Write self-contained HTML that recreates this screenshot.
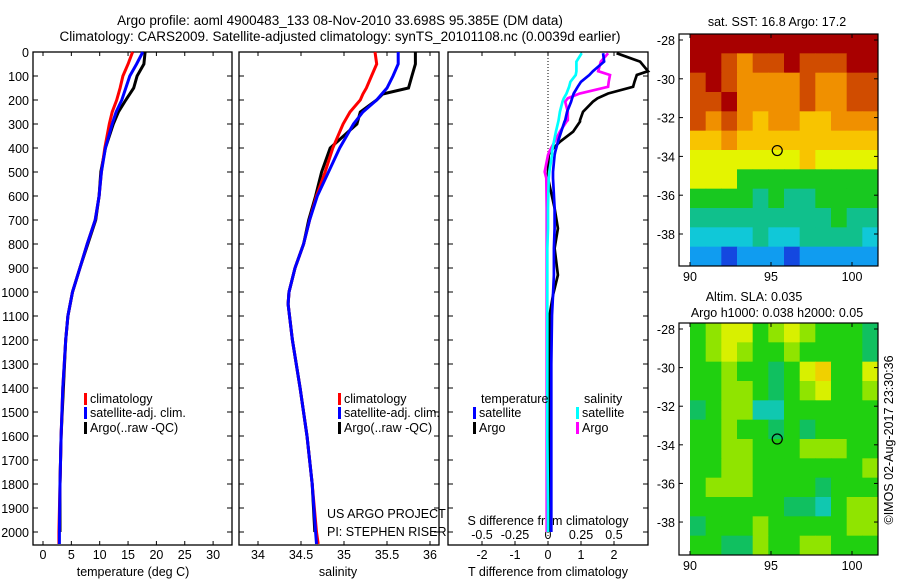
<!DOCTYPE html>
<html><head><meta charset="utf-8"><style>
body{margin:0;background:#fff}
svg{display:block;font-family:"Liberation Sans",sans-serif}
text{font-size:12.5px;fill:#000}
</style></head><body>
<svg id="s" width="900" height="580" viewBox="0 0 900 580">
<text x="340" y="25" text-anchor="middle" style="font-size:13.5px">Argo profile: aoml 4900483_133 08-Nov-2010 33.698S 95.385E (DM data)</text>
<text x="340" y="41" text-anchor="middle" style="font-size:13.5px">Climatology: CARS2009. Satellite-adjusted climatology: synTS_20101108.nc (0.0039d earlier)</text>
</svg>
<script>
// ---- data ----
const depthT=[0,50,100,150,200,250,300,400,500,600,700,800,900,1000,1100,1200,1400,1600,1800,2000,2050];
const tempClim=[15.8,15.0,14.1,13.6,13.0,12.2,11.7,10.9,10.3,9.9,9.2,7.8,6.5,5.2,4.4,4.0,3.5,3.2,3.0,2.8,2.8];
const tempSat =[17.6,16.5,15.3,14.6,13.9,12.9,12.2,11.0,10.3,9.9,9.2,7.8,6.5,5.2,4.4,4.0,3.5,3.2,3.0,2.9,2.9];
const tempArgo=[18.0,17.8,16.6,16.0,14.6,13.3,12.4,11.0,10.2,9.9,9.3,7.9,6.5,5.2,4.4,4.0,3.6,3.2,3.0,3.0];
const depthS=[0,50,100,150,175,200,250,300,400,500,600,700,800,900,1000,1050,1200,1400,1600,1800,2000,2050];
const salClim=[35.36,35.38,35.32,35.26,35.22,35.19,35.07,34.99,34.87,34.78,34.68,34.60,34.53,34.43,34.36,34.35,34.40,34.49,34.57,34.63,34.68,34.70];
const salSat =[35.63,35.63,35.57,35.50,35.44,35.38,35.22,35.11,34.95,34.82,34.69,34.60,34.53,34.43,34.36,34.35,34.40,34.49,34.57,34.63,34.67,34.68];
const salArgo=[35.83,35.83,35.79,35.75,35.45,35.38,35.19,35.15,34.84,34.74,34.67,34.59,34.53,34.43,34.36,34.35,34.40,34.49,34.57,34.63,34.66];
const depthD=[5,40,80,96,124,145,173,193,207,249,284,290,332,374,415,429,499,526,651,735,818,929,1013,1096,1300,1600,1900,2000];
const dTsat =[1.67,1.70,1.36,1.25,1.00,0.90,0.78,0.73,0.70,0.58,0.52,0.50,0.40,0.30,0.22,0.20,0.15,0.15,0.20,0.20,0.18,0.18,0.15,0.12,0.10,0.10,0.10,0.10];
const dTargo=[2.08,2.79,3.03,2.69,2.62,2.58,1.82,1.50,1.36,1.06,0.97,0.97,0.76,0.36,0.06,0.02,0.0,0.0,0.20,0.30,0.20,0.30,0.15,0.05,0.05,0.05,0.03,0.03];
const dSsat =[0.255,0.215,0.215,0.21,0.17,0.16,0.14,0.12,0.11,0.09,0.08,0.078,0.06,0.045,0.03,0.03,0.01,0.005,0,0,-0.005,-0.005,-0.005,-0.005,-0.005,-0.005,0,0];
const dSargo=[0.455,0.40,0.38,0.47,0.46,0.455,0.24,0.15,0.13,0.15,0.15,0.14,0.09,0.05,0.01,0.0,-0.025,-0.013,-0.01,-0.01,-0.01,-0.01,-0.01,-0.01,-0.01,-0.01,-0.01,-0.01];
const depthTicks=[0,100,200,300,400,500,600,700,800,900,1000,1100,1200,1300,1400,1500,1600,1700,1800,1900,2000];
const tempTicks=[0,5,10,15,20,25,30];
const salTicks=[34,34.5,35,35.5,36];
const dTTicks=[-2,-1,0,1,2];
const dSTicks=[-0.5,-0.25,0,0.25,0.5];
const sstGrid=[
[9,9,9,9,9,9,9,9,9,9,9,9],
[9,9,8,7,8,8,9,8,8,8,9,9],
[8,9,8,7,7,7,7,8,7,7,8,8],
[8,8,9,7,7,7,7,8,7,7,8,8],
[8,7,8,7,6,7,7,6,6,7,7,7],
[6,6,7,6,6,6,6,6,6,6,6,6],
[5,5,5,5,5,5,5,6,5,5,5,5],
[5,5,5,4,4,4,4,4,4,4,4,4],
[4,4,4,4,3,4,3,3,4,4,4,4],
[3,3,3,3,3,3,3,3,3,4,3,3],
[2,2,2,2,3,2,2,3,3,3,3,2],
[1,1,0,1,1,1,0,1,1,1,1,1]];
const slaGrid=[
[2,3,4,4,2,3,4,3,2,2,2,1],
[2,3,4,3,2,2,3,2,2,2,2,1],
[2,2,3,2,2,1,2,4,5,2,2,4],
[2,2,3,3,2,1,2,3,4,2,2,3],
[1,2,3,3,0,0,2,2,2,2,2,2],
[2,2,3,2,2,1,2,1,2,2,2,2],
[2,2,3,3,2,2,2,3,3,3,2,2],
[2,2,3,3,2,2,2,2,2,2,2,3],
[2,3,3,3,2,2,2,2,1,2,2,2],
[2,2,2,2,2,2,1,1,0,2,3,3],
[1,2,2,2,3,2,2,2,2,2,3,3],
[2,2,1,1,3,2,2,3,3,2,2,2]];
const latTicks=[-28,-30,-32,-34,-36,-38];
const lonTicks=[90,95,100];
// ---- drawing ----
const NS='http://www.w3.org/2000/svg';const svg=document.getElementById('s');
function mk(t,a,p){const e=document.createElementNS(NS,t);for(const k in a)e.setAttribute(k,a[k]);(p||svg).appendChild(e);return e;}
function txt(x,y,s,anchor,size){const e=mk('text',{x:x,y:y,'text-anchor':anchor||'middle'});if(size)e.style.fontSize=size+'px';e.textContent=s;return e;}
const yD=d=>52+d*0.24;
const xT=v=>43+v*5.67, xS=v=>258+(v-34)*86, xDT=v=>548+v*33, xDS=v=>548+v*132;
const panels=[[33,232,'temperature-panel'],[239,439,'salinity-panel'],[448,648,'difference-panel']];
panels.forEach(p=>{
  const g=mk('g',{});
  const r=mk('rect',{x:p[0],y:52,width:p[1]-p[0],height:493,fill:'none',stroke:'#000','stroke-width':1.3},g);
  
  depthTicks.forEach(d=>{mk('line',{x1:p[0],x2:p[0]+5,y1:yD(d),y2:yD(d),stroke:'#000'},g);mk('line',{x1:p[1]-5,x2:p[1],y1:yD(d),y2:yD(d),stroke:'#000'},g);});
});
depthTicks.forEach(d=>{const t=txt(29,yD(d)+5,String(d),'end');});
function xticks(arr,fx,y,name){arr.forEach(v=>{const x=fx(v);mk('line',{x1:x,x2:x,y1:52,y2:56,stroke:'#000'});mk('line',{x1:x,x2:x,y1:541,y2:545,stroke:'#000'});const t=txt(x,y,String(v));});}
xticks(tempTicks,xT,559,'temperature-tick-label');
xticks(salTicks,xS,559,'salinity-tick-label');
xticks(dTTicks,xDT,559,'t-difference-tick-label');
dSTicks.forEach(v=>{const t=txt(xDS(v),539,String(v));});
let t;
t=txt(133,576,'temperature (deg C)');
t=txt(338,576,'salinity');
t=txt(548,576,'T difference from climatology');
t=txt(548,525,'S difference from climatology');
t=txt(327,518,'US ARGO PROJECT','start');
t=txt(327,536,'PI: STEPHEN RISER','start');
// zero dotted line
mk('line',{x1:548,x2:548,y1:52,y2:545,stroke:'#000','stroke-dasharray':'1,2'});
function line(xs,ds,fx,col,w,name){const pts=xs.map((v,i)=>fx(v).toFixed(1)+','+yD(ds[i]).toFixed(1)).join(' ');const e=mk('polyline',{points:pts,fill:'none',stroke:col,'stroke-width':w,'stroke-linejoin':'miter'});}
line(tempArgo,depthT,xT,'#000',3,'temperature-argo-line');
line(tempClim,depthT,xT,'#f00',3,'temperature-climatology-line');
line(tempSat,depthT,xT,'#00f',3,'temperature-satellite-line');
line(salArgo,depthS,xS,'#000',3,'salinity-argo-line');
line(salClim,depthS,xS,'#f00',3,'salinity-climatology-line');
line(salSat,depthS,xS,'#00f',3,'salinity-satellite-line');
line(dTargo,depthD,xDT,'#000',2.7,'t-diff-argo-line');
line(dSargo,depthD,xDS,'#f0f',2.7,'s-diff-argo-line');
line(dTsat,depthD,xDT,'#00f',2.7,'t-diff-satellite-line');
line(dSsat,depthD,xDS,'#0ff',2.7,'s-diff-satellite-line');
function legend(x,y,col,label,name){const r=mk('rect',{x:x,y:y-10,width:3,height:12,fill:col});const e=txt(x+6,y,label,'start');}
[[84,'temp'],[338,'sal']].forEach(([x,n])=>{
legend(x,403,'#f00','climatology',n+'-legend-climatology');
legend(x,417,'#00f','satellite-adj. clim.',n+'-legend-satellite');
legend(x,432,'#000','Argo(..raw -QC)',n+'-legend-argo');});
t=txt(481,403,'temperature','start');
t=txt(584,403,'salinity','start');
legend(473,417,'#00f','satellite','diff-legend-t-satellite');
legend(473,432,'#000','Argo','diff-legend-t-argo');
legend(576,417,'#0ff','satellite','diff-legend-s-satellite');
legend(576,432,'#f0f','Argo','diff-legend-s-argo');
// maps
const sstPal=['#1448e0','#109cf0','#10c8d8','#10c08c','#18c820','#e4f400','#f8c400','#f09000','#d04c00','#a80000'];
const slaPal=['#10c8b0','#10c060','#20d010','#90e400','#d8f000','#f0d000'];
function map(top,grid,pal,name,title){
  const g=mk('g',{});
  const x0=690,x1=878,y0=top,y1=top+232;const cw=(x1-x0)/12,ch=(y1-y0)/12;
  grid.forEach((row,i)=>row.forEach((v,j)=>{const r=mk('rect',{x:(x0+j*cw).toFixed(2),y:(y0+i*ch).toFixed(2),width:(cw+0.5).toFixed(2),height:(ch+0.5).toFixed(2),fill:pal[v]},g);}));
  mk('rect',{x:679,y:y0,width:199,height:232,fill:'none',stroke:'#000','stroke-width':1.2},g);
  const ly=lat=>top+6+(-28-lat)*19.4*(top>200?0.995:1);
  const lx=lon=>690+(lon-90)*16.2;
  latTicks.forEach(l=>{mk('line',{x1:679,x2:683,y1:ly(l),y2:ly(l),stroke:'#000'},g);mk('line',{x1:874,x2:878,y1:ly(l),y2:ly(l),stroke:'#000'},g);const e=txt(675,ly(l)+5,String(l),'end');});
  lonTicks.forEach(l=>{mk('line',{x1:lx(l),x2:lx(l),y1:y0,y2:y0+4,stroke:'#000'},g);mk('line',{x1:lx(l),x2:lx(l),y1:y1-4,y2:y1,stroke:'#000'},g);const e=txt(lx(l),y1+15,String(l));});
  const c=mk('circle',{cx:lx(95.385),cy:ly(-33.698),r:5,fill:'none',stroke:'#000','stroke-width':1.2},g);
}
map(34,sstGrid,sstPal,'sst-map');
map(323,slaGrid,slaPal,'sla-map');
t=txt(777,26,'sat. SST: 16.8 Argo: 17.2');
t=txt(754,301,'Altim. SLA: 0.035');
t=txt(777,317,'Argo h1000: 0.038 h2000: 0.05');
t=txt(0,0,'©IMOS 02-Aug-2017 23:30:36');t.setAttribute('transform','translate(893,440) rotate(-90)');
</script>
</body></html>
